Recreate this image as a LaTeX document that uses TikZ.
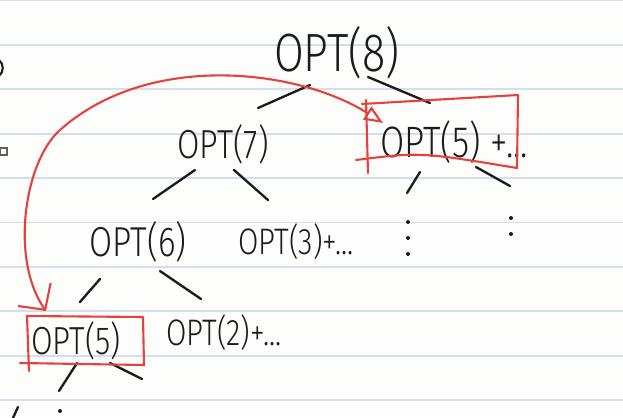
\documentclass[tikz,border=0pt]{standalone}
\usepackage{fontspec}
\newfontfamily\hand[FakeStretch=0.8]{Fira Sans Light}
\usetikzlibrary{arrows.meta}
\definecolor{ink}{HTML}{1C1C1C}
\definecolor{pen}{HTML}{E4433D}
\definecolor{rule}{HTML}{D5DEEB}
\definecolor{paper}{HTML}{FDFDFB}
\newcommand{\fs}[1]{\fontsize{#1}{#1}\selectfont}
\tikzset{%
    opt/.style={font=\hand\fs{#1}, text=ink, inner sep=0pt, anchor=base},
    br/.style={draw=ink, line width=2pt, line cap=round},
    hl/.style={draw=pen, line width=1.8pt, line cap=round, line join=round},
    ln/.style={draw=rule, line width=1.6pt}
}

\begin{document}
\begin{tikzpicture}[x=0.03cm, y=-0.03cm]
    \fill[paper] (0,0) rectangle (623,417);
    \useasboundingbox (0,0) rectangle (623,417);
    \foreach \k in {0,...,9}
        \draw[ln] (0,{0.5+44.4*\k}) -- (623,{0.5+44.4*\k});
    % cut-off marks at the edges
    \draw[ink, line width=1.8pt] (-1,60) .. controls (4,64) and (4,72) .. (-1,76);
    \draw[ink!70, line width=1.2pt] (0.5,148) rectangle (7,155);
    \draw[br] (13,418) -- (18,407);
    \fill[ink] (60,411) circle (2);

    \node[opt=46] (n8) at (337,71) {OPT(8)};
    \node[opt=34.6] (n7) at (223,158) {OPT(7)};
    \node[opt=37.5] (n5a) at (454,157) {OPT(5) +...};
    \node[opt=35.7] (n6) at (138,256) {OPT(6)};
    \node[opt=31.5] (n3) at (296,254) {OPT(3)+...};
    \node[opt=33.4] (n5b) at (76,354) {OPT(5)};
    \node[opt=31.5] (n2) at (224,345) {OPT(2)+...};
    \coordinate (d1) at (407,193);
    \coordinate (d2) at (510,186);
    \coordinate (b1) at (59,391);
    \coordinate (b2) at (142,379);

    \draw[br] ([shift={(-27,14)}]n8.base) -- ([shift={(35,-50)}]n7.base);
    \draw[br] ([shift={(31,6)}]n8.base) -- ([shift={(-24,-54)}]n5a.base);
    \draw[br] ([shift={(-28,12)}]n7.base) -- ([shift={(15,-57)}]n6.base);
    \draw[br] ([shift={(11,12)}]n7.base) -- ([shift={(-28,-54)}]n3.base);
    \draw[br] ([shift={(-38,23)}]n6.base) -- ([shift={(4,-52)}]n5b.base);
    \draw[br] ([shift={(22,15)}]n6.base) -- ([shift={(-23,-46)}]n2.base);
    \draw[br] ([shift={(-34,15)}]n5a.base) -- (d1);
    \draw[br] ([shift={(22,10)}]n5a.base) -- (d2);
    \draw[br] ([shift={(1,9)}]n5b.base) -- (b1);
    \draw[br] ([shift={(34,9)}]n5b.base) -- (b2);
    \foreach \y in {29,45,61} \fill[ink] (d1) ++(1,\y) circle (2);
    \foreach \y in {32,48} \fill[ink] (d2) ++(1,\y) circle (2);

    % red boxes
    \draw[hl] (362,104) -- (518,95) -- (517,168) .. controls (420,152) .. (356,160);
    \draw[hl] (366,100) -- (368,173);
    \draw[hl] (20,363) -- (144,365) -- (143,317) -- (27,316) -- (29,371);
    \draw[hl, {Triangle[open, length=16pt, width=13pt]}-{Straight Barb[length=16pt, width=34pt]}]
        ([shift={(-71,-34)}]n5a.base) .. controls (300,70) and (150,50) .. (60,130)
        .. controls (24,162) and (10,260) .. ([shift={(-30,-43)}]n5b.base);
\end{tikzpicture}
\end{document}
